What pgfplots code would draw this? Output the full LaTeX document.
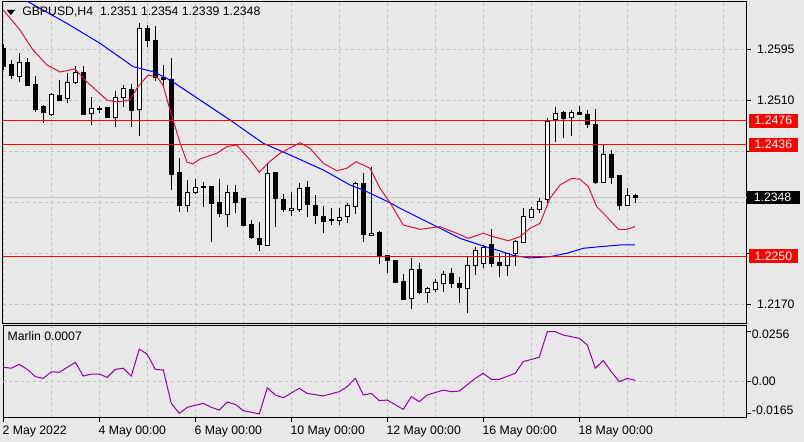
\documentclass[border=0pt]{standalone}
\usepackage{pgfplots}
\pgfplotsset{compat=1.18}
\usepackage{pgfplotstable}
\usepackage{fontspec}
\setmainfont{Liberation Sans}
\definecolor{bg}{RGB}{232,232,232}
\definecolor{gridc}{RGB}{192,192,192}
\definecolor{curc}{RGB}{200,200,200}
\definecolor{maRed}{RGB}{220,20,60}
\definecolor{maBlue}{RGB}{0,0,255}
\definecolor{lvl}{RGB}{255,0,0}
\definecolor{marlinc}{RGB}{150,0,170}
\newcommand\lab{\fontsize{9.2}{11}\selectfont}

\pgfplotstableread{
i O H L C
0 1.25972 1.26039 1.25605 1.25672
1 1.25705 1.25772 1.25455 1.25510
2 1.25494 1.25894 1.25400 1.25734
3 1.25727 1.25810 1.25344 1.25350
4 1.25372 1.25505 1.24910 1.24955
5 1.24994 1.25022 1.24717 1.24894
6 1.24872 1.25217 1.24839 1.25200
7 1.25184 1.25439 1.25089 1.25105
8 1.25127 1.25550 1.25050 1.25405
9 1.25405 1.25672 1.25372 1.25572
10 1.25572 1.25672 1.24860 1.24867
11 1.24884 1.25150 1.24694 1.24967
12 1.24972 1.25005 1.24884 1.24944
13 1.24977 1.24994 1.24805 1.24810
14 1.24817 1.25255 1.24660 1.25150
15 1.25150 1.25355 1.24994 1.25294
16 1.25284 1.25372 1.24660 1.24927
17 1.24950 1.26384 1.24505 1.26300
18 1.26300 1.26355 1.25994 1.26094
19 1.26105 1.26339 1.25427 1.25477
20 1.25477 1.25689 1.25327 1.25439
21 1.25455 1.25800 1.23605 1.23872
22 1.23894 1.24134 1.23244 1.23355
23 1.23344 1.23772 1.23234 1.23567
24 1.23567 1.23784 1.23534 1.23650
25 1.23667 1.23739 1.23317 1.23655
26 1.23672 1.23672 1.22744 1.23377
27 1.23405 1.23784 1.23160 1.23210
28 1.23194 1.23684 1.22994 1.23567
29 1.23572 1.23684 1.23217 1.23394
30 1.23467 1.23480 1.23000 1.23010
31 1.23034 1.23105 1.22789 1.22810
32 1.22805 1.23067 1.22594 1.22689
33 1.22677 1.24050 1.22670 1.23884
34 1.23900 1.23905 1.22994 1.23460
35 1.23455 1.23539 1.23234 1.23277
36 1.23267 1.23567 1.23167 1.23300
37 1.23284 1.23727 1.23239 1.23634
38 1.23650 1.23755 1.23150 1.23360
39 1.23350 1.23522 1.23039 1.23177
40 1.23167 1.23339 1.22894 1.23077
41 1.23122 1.23300 1.23017 1.23100
42 1.23100 1.23310 1.23027 1.23150
43 1.23167 1.23389 1.23050 1.23350
44 1.23334 1.23744 1.23205 1.23722
45 1.23722 1.23884 1.22744 1.22867
46 1.22850 1.23994 1.22839 1.22884
47 1.22905 1.22922 1.22372 1.22510
48 1.22517 1.22527 1.22230 1.22434
49 1.22422 1.22439 1.22050 1.22060
50 1.22072 1.22205 1.21780 1.21784
51 1.21800 1.22477 1.21627 1.22272
52 1.22272 1.22384 1.21867 1.21894
53 1.21894 1.21994 1.21717 1.21967
54 1.21944 1.22122 1.21910 1.22067
55 1.22050 1.22255 1.21910 1.22200
56 1.22217 1.22300 1.21967 1.22044
57 1.22050 1.22150 1.21717 1.21977
58 1.21967 1.22494 1.21550 1.22350
59 1.22355 1.22661 1.22189 1.22594
60 1.22372 1.22689 1.22300 1.22644
61 1.22689 1.22955 1.22317 1.22384
62 1.22400 1.22550 1.22150 1.22350
63 1.22339 1.22550 1.22172 1.22539
64 1.22539 1.22772 1.22339 1.22750
65 1.22734 1.23300 1.22734 1.23172
66 1.23150 1.23327 1.23134 1.23284
67 1.23284 1.23467 1.23217 1.23422
68 1.23439 1.24810 1.23384 1.24755
69 1.24784 1.24994 1.24410 1.24884
70 1.24900 1.24920 1.24467 1.24800
71 1.24817 1.24939 1.24510 1.24894
72 1.24900 1.25005 1.24855 1.24867
73 1.24872 1.24939 1.24634 1.24705
74 1.24705 1.24955 1.23705 1.23727
75 1.23734 1.24367 1.23730 1.24189
76 1.24189 1.24272 1.23705 1.23817
77 1.23839 1.23839 1.23272 1.23344
78 1.23350 1.23634 1.23345 1.23510
79 1.23510 1.23540 1.23390 1.23480
}\candles

\pgfplotstableread{
i p
0 1.26605
2.09 1.26272
3.71 1.25939
5.46 1.25689
7.09 1.25572
8.96 1.25622
10.46 1.25405
12.96 1.25105
14.21 1.25072
15.84 1.25105
16.71 1.25305
18.09 1.25522
19.21 1.25489
19.96 1.25355
20.84 1.24939
22.09 1.24389
22.96 1.24072
23.71 1.24039
24.59 1.24122
26.68 1.24217
27.93 1.24327
29.18 1.24355
30.84 1.24105
32.0 1.23900
33.13 1.24060
34.59 1.24217
37.09 1.24394
38.34 1.24300
40.0 1.24050
41.68 1.23927
42.93 1.23967
44.09 1.24077
45.84 1.23967
47.09 1.23634
48.34 1.23394
50.0 1.23022
52.09 1.22950
54.59 1.22994
56.68 1.22884
58.13 1.22800
60.0 1.22884
61.25 1.22827
63.13 1.22760
64.59 1.22827
65.84 1.22967
67.09 1.23050
68.34 1.23467
69.59 1.23689
71.05 1.23800
72.09 1.23784
73.13 1.23660
74.18 1.23327
75.43 1.23160
76.88 1.22950
77.93 1.22950
78.96 1.22994
}\redma

\pgfplotstableread{
i p
0 1.26972
2.71 1.26772
7.93 1.26384
12.09 1.26050
16.25 1.25660
18.75 1.25577
20.84 1.25439
24.59 1.25105
28.34 1.24772
32.5 1.24384
35.84 1.24189
40.0 1.23939
43.34 1.23689
45.0 1.23605
48.34 1.23394
49.59 1.23300
52.09 1.23134
54.59 1.22967
57.09 1.22800
59.59 1.22689
62.09 1.22589
63.75 1.22514
65.84 1.22472
68.34 1.22494
70.43 1.22550
72.5 1.22634
74.59 1.22661
77.09 1.22689
78.96 1.22689
}\bluema

\pgfplotstableread{
i v
0 0.0074
1 0.0069
2 0.0089
3 0.0063
4 0.0026
5 0.0017
6 0.0051
7 0.0048
9 0.0099
10 0.0029
11 0.0039
12 0.0039
13 0.0022
14 0.0063
15 0.0069
16 0.0029
17 0.0167
18 0.0140
19 0.0063
20 0.0060
21 -0.0111
22 -0.0162
23 -0.0131
25 -0.0111
26 -0.0131
27 -0.0145
28 -0.0104
29 -0.0116
30 -0.0148
32 -0.0165
33 -0.0031
34 -0.0068
35 -0.0082
37 -0.0034
38 -0.0060
40 -0.0073
42 -0.0051
43 -0.0025
44 0.0017
45 -0.0068
46 -0.0060
47 -0.0097
48 -0.0094
50 -0.0142
51 -0.0077
52 -0.0102
53 -0.0068
55 -0.0043
56 -0.0051
57 -0.0048
59 0.0017
60 0.0043
61 0.0012
62 0.0012
64 0.0043
65 0.0103
67 0.0125
68 0.0256
69 0.0256
70 0.0239
72 0.0222
73 0.0188
74 0.0069
75 0.0108
76 0.0051
77 0.0000
78 0.0017
79 0.0007
}\marlin

\begin{document}
\begin{tikzpicture}
\fill[bg] (0,0) rectangle (603pt,331.5pt);
\useasboundingbox (0,0) rectangle (603pt,331.5pt);

\begin{axis}[name=main, at={(2.25pt,88.725pt)}, anchor=south west,
  scale only axis, width=558pt, height=241.275pt,
  xmin=-0.0375, xmax=92.9625, ymin=1.21377, ymax=1.26739,
  axis line style={black, line width=0.75pt},
  xtick={0,6,...,90}, xticklabels={}, xtick style={draw=none},
  ytick={1.2170,1.2255,1.2340,1.2425,1.2510,1.2595},
  yticklabels={1.2170,,,,1.2510,1.2595},
  ytick pos=right, yticklabel pos=right, tick align=outside,
  major tick length=3pt,
  ytick style={black, line width=0.75pt},
  xmajorgrids, ymajorgrids,
  grid style={gridc, dash pattern=on 2.25pt off 2.25pt, line width=0.75pt},
  yticklabel style={font=\lab, text=black, xshift=1pt},
  clip mode=individual,
]
\addplot[forget plot, curc, line width=0.75pt] coordinates {(-0.0375,1.2348) (92.9625,1.2348)};

\pgfplotsinvokeforeach{0,...,79}{%
  \pgfplotstablegetelem{#1}{O}\of\candles\let\vO\pgfplotsretval
  \pgfplotstablegetelem{#1}{H}\of\candles\let\vH\pgfplotsretval
  \pgfplotstablegetelem{#1}{L}\of\candles\let\vL\pgfplotsretval
  \pgfplotstablegetelem{#1}{C}\of\candles\let\vC\pgfplotsretval
  \pgfmathsetmacro\xa{#1-0.25}%
  \pgfmathsetmacro\xb{#1+0.25}%
  \pgfmathtruncatemacro\up{\vC>\vO}%
  \ifnum\up=1 \def\fc{white}\else\def\fc{black}\fi
  \edef\temp{%
    \noexpand\addplot[forget plot, black, line width=0.75pt] coordinates {(#1,\vL) (#1,\vH)};
    \noexpand\addplot[forget plot, draw=black, fill=\fc, line width=0.75pt] coordinates {(\xa,\vO) (\xb,\vO) (\xb,\vC) (\xa,\vC)} -- cycle;
  }%
  \temp
}

\addplot[forget plot, maBlue, line width=0.75pt] table[x=i,y=p] {\bluema};
\addplot[forget plot, maRed, line width=0.75pt] table[x=i,y=p] {\redma};

\addplot[forget plot, lvl, line width=0.9pt] coordinates {(-0.0375,1.2476) (92.9625,1.2476)};
\addplot[forget plot, lvl, line width=0.9pt] coordinates {(-0.0375,1.2436) (92.9625,1.2436)};
\addplot[forget plot, lvl, line width=0.9pt] coordinates {(-0.0375,1.2250) (92.9625,1.2250)};

\coordinate (r2476) at (axis cs:92.9625,1.2476);
\coordinate (r2436) at (axis cs:92.9625,1.2436);
\coordinate (r2250) at (axis cs:92.9625,1.2250);
\coordinate (r2348) at (axis cs:92.9625,1.2348);

\fill[black] (rel axis cs:0.00497,0.97513) -- (rel axis cs:0.01613,0.97513) -- (rel axis cs:0.01055,0.95959) -- cycle;
\node[anchor=west, font=\lab, inner sep=0pt, text=black] at (rel axis cs:0.02554,0.968)
  {GBPUSD,H4\hspace{5.2pt}1.2351 1.2354 1.2339 1.2348};
\end{axis}

\tikzset{lvlbox/.style={anchor=west, text=white, font=\lab, inner xsep=4pt, inner ysep=0pt,
  minimum height=10.3pt, text width=28.5pt, align=left}}
\node[lvlbox, fill=lvl] at ([xshift=1.5pt]r2476) {1.2476};
\node[lvlbox, fill=lvl] at ([xshift=1.5pt]r2436) {1.2436};
\node[lvlbox, fill=lvl] at ([xshift=1.5pt]r2250) {1.2250};
\node[lvlbox, fill=black, text width=29.6pt, inner xsep=4.9pt] at ([xshift=0pt]r2348) {1.2348};

\begin{axis}[name=low, at={(2.25pt,18.225pt)}, anchor=south west,
  scale only axis, width=558pt, height=69pt,
  xmin=-0.0375, xmax=92.9625, ymin=-0.018432, ymax=0.028672,
  axis line style={black, line width=0.75pt},
  xtick={0,12,...,72},
  xticklabels={2 May 2022,4 May 00:00,6 May 00:00,10 May 00:00,12 May 00:00,16 May 00:00,18 May 00:00},
  minor xtick={6,18,30,42,54,66,78,84,90},
  xmajorgrids, xminorgrids,
  grid style={gridc, dash pattern=on 2.25pt off 2.25pt, line width=0.75pt},
  minor grid style={gridc, dash pattern=on 2.25pt off 2.25pt, line width=0.75pt},
  xtick pos=bottom, ytick pos=right, tick align=outside,
  major tick length=3pt, minor tick length=0pt,
  tick style={black, line width=0.75pt},
  ytick={-0.0165,0,0.0256}, yticklabels={}, scaled y ticks=false,
  xticklabel style={font=\lab, text=black, anchor=north west, inner xsep=0pt, xshift=-0.75pt},
  clip mode=individual,
]
\addplot[forget plot, gridc, dash pattern=on 2.25pt off 2.25pt, line width=0.75pt] coordinates {(-0.0375,0) (92.9625,0)};
\addplot[forget plot, marlinc, line width=0.75pt] table[x=i,y=v] {\marlin};
\node[anchor=west, font=\lab, inner sep=0pt, text=black] at (rel axis cs:0.0058,0.888) {Marlin 0.0007};
\node[anchor=west, font=\lab, inner sep=0pt, text=black] at ([xshift=3.5pt,yshift=-2pt]axis cs:92.9625,0.0256) {0.0256};
\node[anchor=west, font=\lab, inner sep=0pt, text=black] at ([xshift=3.5pt]axis cs:92.9625,0) {0.00};
\node[anchor=west, font=\lab, inner sep=0pt, text=black] at ([xshift=3.5pt,yshift=2.9pt]axis cs:92.9625,-0.0165) {-0.0165};
\end{axis}
\end{tikzpicture}
\end{document}
